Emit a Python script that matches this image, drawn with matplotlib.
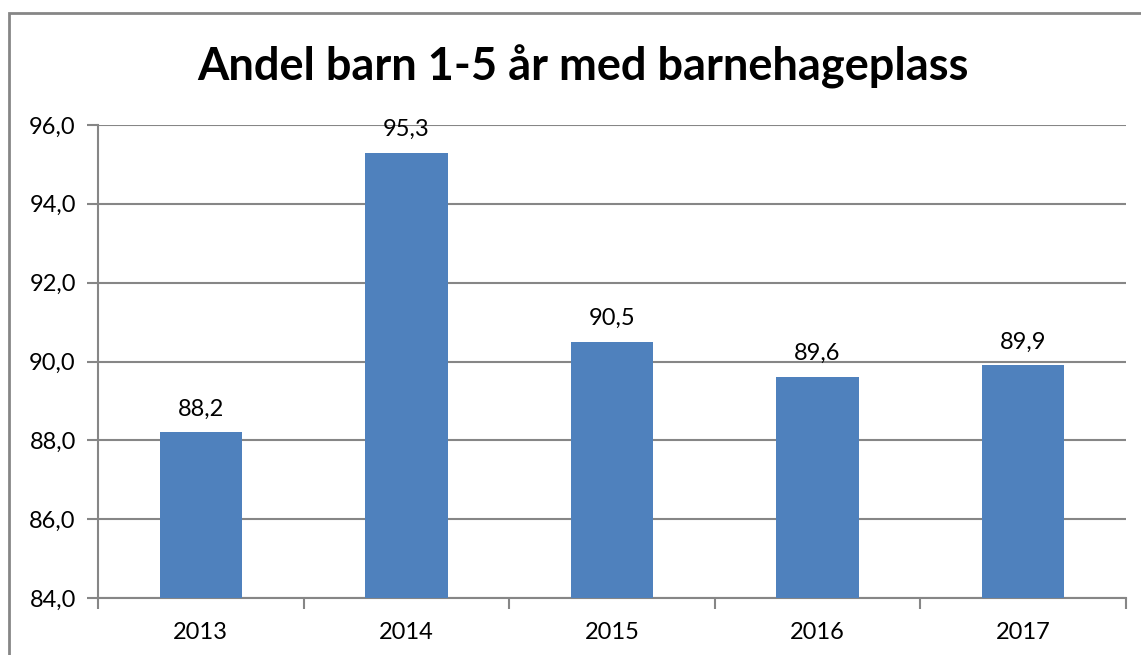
import matplotlib
matplotlib.use('Agg')
import matplotlib.pyplot as plt
from matplotlib.patches import Rectangle

# data
years = ['2013', '2014', '2015', '2016', '2017']
andel = [88.2, 95.3, 90.5, 89.6, 89.9]
yticks = [84, 86, 88, 90, 92, 94, 96]

plt.rcParams['font.family'] = ['Lato', 'DejaVu Sans']
grey = '#868686'

fig = plt.figure(figsize=(11.41, 6.55), dpi=100)
ax = fig.add_axes([98/1141, 1 - 598/655, (1126 - 98)/1141, (598 - 125)/655])

x = range(len(years))
bars = ax.bar(x, andel, width=0.4, color='#4F81BD', zorder=3)
for xi, v in zip(x, andel):
    ax.text(xi, v + 0.33, ('%.1f' % v).replace('.', ','), ha='center', va='bottom', fontsize=17)

ax.set_xlim(-0.5, len(years) - 0.5)
ax.set_ylim(84, 96)
ax.set_yticks(yticks)
ax.set_yticklabels([('%.1f' % t).replace('.', ',') for t in yticks], fontsize=17)
ax.set_xticks(list(x))
ax.set_xticklabels(years, fontsize=17)
ax.set_xticks([i - 0.5 for i in range(len(years) + 1)], minor=True)
ax.tick_params(axis='x', which='major', length=0, pad=17)
ax.tick_params(axis='x', which='minor', length=8, color=grey, width=1.5)
ax.tick_params(axis='y', length=8, color=grey, width=1.5, pad=8)
ax.grid(axis='y', color=grey, linewidth=1.5, zorder=0)
for side in ['top', 'right']:
    ax.spines[side].set_visible(False)
for side in ['left', 'bottom']:
    ax.spines[side].set_color(grey)
    ax.spines[side].set_linewidth(1.5)

fig.text(583/1141, 1 - 67/655, 'Andel barn 1-5 år med barnehageplass', ha='center', va='center',
         fontsize=32.5, fontweight='bold')

# outer chart border (only top and left visible in the crop)
fig.patches.append(Rectangle((9/1141, -0.1), 1.2, 1 - 13/655 + 0.1, transform=fig.transFigure,
                             fill=False, edgecolor=grey, linewidth=2))

fig.savefig('out.png', dpi=100)
